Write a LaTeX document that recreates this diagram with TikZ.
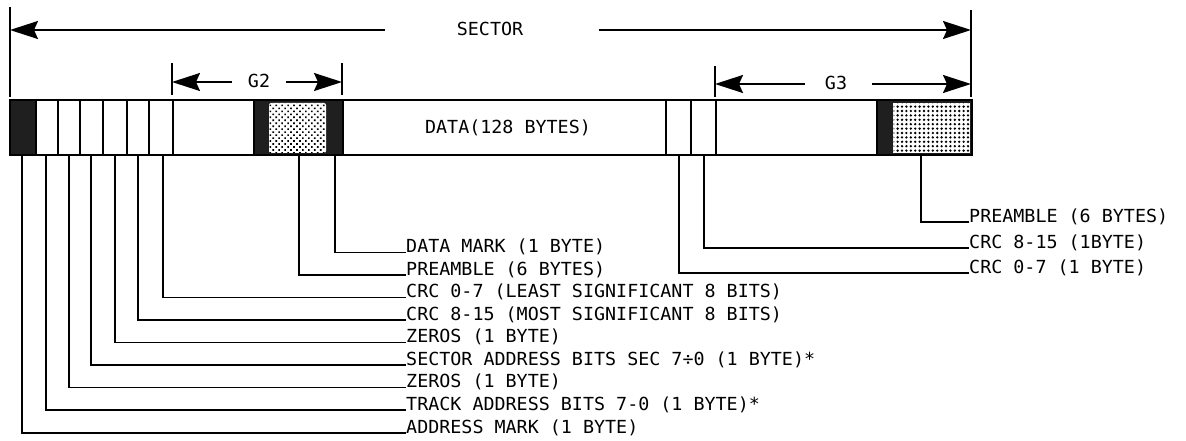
\documentclass[tikz,border=0pt]{standalone}
\usepackage{fontspec}
\newfontfamily\lblfont[FakeStretch=1.02]{DejaVu Sans Mono}
\usetikzlibrary{arrows.meta,patterns.meta}
\begin{document}
\begin{tikzpicture}[x=1pt,y=-1pt,
  ln/.style={line width=1.8pt},
  lbl/.style={font=\lblfont\fontsize{18}{20}\selectfont, inner sep=0pt, anchor=base west},
  ttl/.style={font=\lblfont\fontsize{18}{20}\selectfont, inner sep=0pt},
  dimarrow/.style={ln,-{Stealth[length=28pt,width=18pt,inset=4pt]}},
  blk/.style={fill=black!88},
]
\useasboundingbox (0,0) rectangle (1186,441);

% ---- bar ----
\fill[blk] (10,100) rectangle (36,155);
\fill[blk] (254,100) rectangle (343,155);
\fill[white,rounded corners=2pt] (269,103) rectangle (326,153);
\fill[pattern={Dots[distance=4.2pt,radius=1.15pt,angle=45]},pattern color=black] (269.5,103.5) rectangle (325.5,152.5);
\fill[blk] (877,100) rectangle (972,155);
\fill[white] (893,103) rectangle (970,153);
\fill[pattern={Dots[distance=4.4pt,radius=1.3pt]},pattern color=black] (893.5,103.5) rectangle (969.5,152.5);
\draw[ln] (10,100) rectangle (972,155);
\foreach \x in {36,58,80,103,127,149,173,254,343,666,691,716,877}
  \draw[ln] (\x,100) -- (\x,155);
\node[ttl] (data) at (508,128) {DATA(128 BYTES)};

% ---- dimension lines ----
\coordinate (sl) at (10,30);
\coordinate (sr) at (971,30);
\coordinate (sa) at (385,30);
\coordinate (sb) at (599,30);
\draw[ln] (10,7) -- (10,97);
\draw[ln] (971,10) -- (971,97);
\node[ttl] (sector) at (490,29) {SECTOR};
\draw[dimarrow] (sa) -- (sl);
\draw[dimarrow] (sb) -- (sr);

\coordinate (g2l) at (172,82);
\coordinate (g2r) at (342,82);
\coordinate (g2a) at (232,82);
\coordinate (g2b) at (286,82);
\draw[ln] (172,63) -- (172,95);
\draw[ln] (342,63) -- (342,95);
\node[ttl] (g2) at (259,81) {G2};
\draw[dimarrow] (g2a) -- (g2l);
\draw[dimarrow] (g2b) -- (g2r);

\coordinate (g3l) at (715,84);
\coordinate (g3r) at (971,84);
\coordinate (g3a) at (805,84);
\coordinate (g3b) at (872,84);
\draw[ln] (715,66) -- (715,97);
\node[ttl] (g3) at (836,83) {G3};
\draw[dimarrow] (g3a) -- (g3l);
\draw[dimarrow] (g3b) -- (g3r);

% ---- leader origins ----
\coordinate (c1) at (22,155);
\coordinate (c2) at (46,155);
\coordinate (c3) at (69,155);
\coordinate (c4) at (91,155);
\coordinate (c5) at (115,155);
\coordinate (c6) at (138,155);
\coordinate (c7) at (163,155);
\coordinate (c8) at (299,155);
\coordinate (c9) at (335,155);
\coordinate (c10) at (679,155);
\coordinate (c11) at (704,155);
\coordinate (c12) at (921,155);

% ---- labels ----
\node[lbl] (l9) at (406,252.5) {DATA MARK (1 BYTE)};
\node[lbl] (l8) at (406,275) {PREAMBLE (6 BYTES)};
\node[lbl] (l7) at (406,297.5) {CRC 0-7 (LEAST SIGNIFICANT 8 BITS)};
\node[lbl] (l6) at (406,320) {CRC 8-15 (MOST SIGNIFICANT 8 BITS)};
\node[lbl] (l5) at (406,342.5) {ZEROS (1 BYTE)};
\node[lbl] (l4) at (406,365) {SECTOR ADDRESS BITS SEC 7÷0 (1 BYTE)*};
\node[lbl] (l3) at (406,387.5) {ZEROS (1 BYTE)};
\node[lbl] (l2) at (406,410) {TRACK ADDRESS BITS 7-0 (1 BYTE)*};
\node[lbl] (l1) at (406,433) {ADDRESS MARK (1 BYTE)};
\node[lbl] (l12) at (969,222) {PREAMBLE (6 BYTES)};
\node[lbl] (l11) at (969,248) {CRC 8-15 (1BYTE)};
\node[lbl] (l10) at (969,273) {CRC 0-7 (1 BYTE)};

\foreach \i in {1,...,12}
  \draw[ln] (c\i) |- (l\i.base west);
\end{tikzpicture}
\end{document}
